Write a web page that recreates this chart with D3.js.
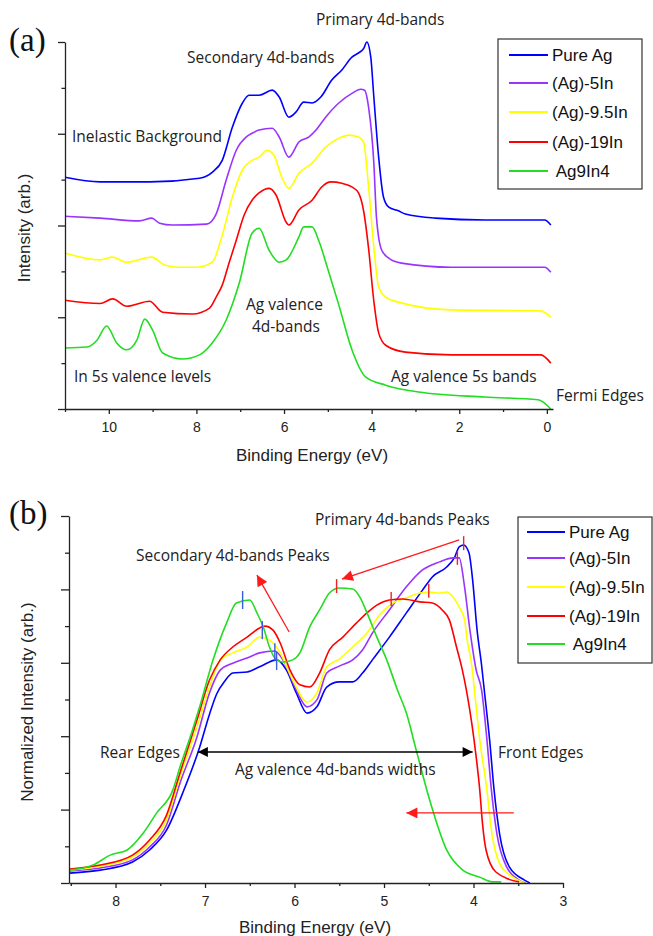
<!DOCTYPE html>
<html>
<head>
<meta charset="utf-8">
<script src="https://cdn.jsdelivr.net/npm/d3@7"></script>
<style>
  body { margin: 0; background: #fff; }
  svg { display: block; }
  .note { font-family: "Open Sans", sans-serif; font-size: 15.5px; fill: #222; }
  .axis text { font-family: "Liberation Sans", Arial, sans-serif; font-size: 14px; fill: #222; }
  .axis path, .axis line { stroke: #222; stroke-width: 1.3; }
  .title { font-family: "Liberation Sans", Arial, sans-serif; font-size: 17px; fill: #222; }
  .panel { font-family: "Liberation Serif", "Times New Roman", serif; font-size: 33px; fill: #111; }
  .legend text { font-family: "Liberation Sans", Arial, sans-serif; font-size: 17px; fill: #111; white-space: pre; }
</style>
</head>
<body>
<svg id="fig" width="653" height="936"></svg>
<script>
var seriesNames = ["Pure Ag", "(Ag)-5In", "(Ag)-9.5In", "(Ag)-19In", " Ag9In4"];
var seriesColors = ["#0000ff", "#9933ff", "#ffff00", "#ff0000", "#22dd22"];

// panel (a): [binding energy (eV), stacked intensity]
var aPureAg = [[11,5.05],[10.2,4.95],[9.07,4.95],[7.93,5.03],[7.64,5.16],[7.41,5.42],[7.18,6.14],[6.95,6.67],[6.8,6.84],[6.57,6.84],[6.27,6.95],[6.11,6.8],[5.89,6.36],[5.73,6.47],[5.55,6.69],[5.36,6.67],[5.16,6.8],[4.91,7.17],[4.68,7.39],[4.45,7.67],[4.3,7.76],[4.18,7.86],[4.11,8.0],[4.02,7.67],[3.95,6.8],[3.84,5.49],[3.73,4.62],[3.61,4.4],[3.39,4.32],[3.23,4.25],[2.55,4.16],[1.41,4.12],[0.05,4.12],[-0.09,4.01]];
var a5In = [[11,4.2],[10.2,4.16],[9.3,4.1],[9.02,4.16],[8.84,4.05],[8.55,4.01],[7.77,4.03],[7.55,4.25],[7.32,4.99],[7.09,5.64],[6.86,5.93],[6.73,6.01],[6.57,6.08],[6.27,6.12],[6.11,5.93],[5.89,5.49],[5.66,5.82],[5.43,5.93],[5.27,6.08],[5.05,6.36],[4.75,6.67],[4.45,6.88],[4.25,6.97],[4.16,6.95],[4.07,6.58],[3.95,5.36],[3.89,4.18],[3.77,3.46],[3.61,3.29],[3.32,3.18],[2.18,3.09],[0.05,3.09],[-0.09,2.98]];
var a9_5In = [[11,3.4],[10.2,3.25],[9.91,3.31],[9.6,3.2],[9.02,3.31],[8.73,3.14],[8.39,3.09],[8.0,3.09],[7.64,3.2],[7.41,3.79],[7.18,4.62],[6.95,5.21],[6.73,5.42],[6.57,5.49],[6.39,5.64],[6.23,5.53],[6.05,5.05],[5.89,4.81],[5.66,5.14],[5.36,5.36],[5.05,5.71],[4.75,5.9],[4.52,5.97],[4.3,5.93],[4.18,5.8],[4.07,4.84],[3.95,3.53],[3.84,2.66],[3.68,2.44],[3.39,2.33],[2.18,2.16],[0.14,2.14],[-0.09,2.0]];
var a19In = [[11,2.37],[10.2,2.3],[9.91,2.4],[9.59,2.24],[9.07,2.35],[8.77,2.11],[8.09,2.07],[7.7,2.2],[7.55,2.44],[7.41,2.7],[7.25,3.2],[7.09,3.68],[6.91,4.23],[6.73,4.55],[6.57,4.71],[6.34,4.81],[6.18,4.66],[5.95,4.07],[5.89,4.01],[5.66,4.34],[5.36,4.55],[5.14,4.84],[4.93,4.95],[4.68,4.92],[4.45,4.84],[4.3,4.71],[4.18,4.3],[4.07,3.5],[3.95,2.35],[3.84,1.66],[3.68,1.39],[3.23,1.24],[2.18,1.18],[0.14,1.18],[-0.09,1.0]];
var aAg9In4 = [[11,1.33],[10.5,1.35],[10.27,1.5],[10.05,1.81],[9.82,1.44],[9.59,1.29],[9.36,1.5],[9.18,1.96],[9.0,1.72],[8.77,1.22],[8.32,1.09],[7.93,1.18],[7.64,1.44],[7.32,1.94],[7.02,2.75],[6.73,3.83],[6.57,3.94],[6.34,3.46],[6.11,3.2],[5.95,3.25],[5.66,3.75],[5.55,3.97],[5.36,3.97],[5.2,3.65],[5.0,3.05],[4.75,2.27],[4.45,1.29],[4.14,0.7],[3.68,0.52],[2.93,0.37],[1.41,0.26],[0.2,0.2],[-0.09,0.0]];

// panel (b): [binding energy (eV), normalized intensity]
var bPureAg = [[8.51,0.27],[8.17,0.35],[7.81,0.57],[7.62,0.9],[7.43,1.44],[7.25,2.45],[7.06,3.7],[6.95,4.6],[6.87,5.15],[6.78,5.5],[6.69,5.72],[6.53,5.75],[6.39,5.89],[6.2,6.08],[6.09,5.8],[5.98,5.18],[5.86,4.63],[5.75,4.8],[5.64,5.34],[5.5,5.48],[5.35,5.48],[5.24,5.72],[5.13,6.08],[4.94,6.7],[4.75,7.36],[4.57,7.98],[4.46,8.34],[4.3,8.61],[4.21,8.88],[4.16,9.16],[4.11,9.21],[4.05,8.99],[4.01,8.26],[3.96,6.89],[3.91,5.94],[3.88,5.26],[3.82,3.9],[3.77,2.53],[3.71,1.36],[3.6,0.44],[3.43,0.08],[3.37,0]];
var b5In = [[8.51,0.33],[8.17,0.41],[7.81,0.63],[7.62,0.98],[7.43,1.58],[7.28,2.72],[7.09,3.98],[6.95,5.18],[6.83,5.8],[6.69,5.99],[6.53,6.13],[6.39,6.27],[6.22,6.32],[6.13,6.08],[5.98,5.26],[5.86,4.8],[5.75,4.99],[5.64,5.72],[5.5,5.91],[5.35,6.08],[5.24,6.35],[5.13,6.81],[4.94,7.44],[4.75,8.07],[4.57,8.53],[4.38,8.75],[4.23,8.86],[4.16,8.86],[4.1,8.07],[4.04,6.89],[3.97,5.8],[3.91,5.26],[3.85,3.9],[3.8,2.53],[3.74,1.36],[3.63,0.44],[3.49,0.08],[3.42,0]];
var b9_5In = [[8.51,0.35],[8.17,0.46],[7.81,0.71],[7.62,1.09],[7.43,1.72],[7.28,2.89],[7.09,4.25],[6.95,5.34],[6.83,6.08],[6.69,6.27],[6.53,6.43],[6.39,6.7],[6.28,6.62],[6.16,6.27],[6.02,5.53],[5.86,4.93],[5.75,5.18],[5.64,5.89],[5.5,6.1],[5.35,6.43],[5.19,6.81],[5.05,7.3],[4.9,7.63],[4.75,7.77],[4.6,7.9],[4.49,7.93],[4.38,7.9],[4.3,7.93],[4.23,7.79],[4.16,7.52],[4.1,7.17],[4.07,6.62],[4.02,5.94],[3.99,5.26],[3.93,3.9],[3.85,2.53],[3.8,1.44],[3.71,0.54],[3.56,0.16],[3.43,0]];
var b19In = [[8.51,0.38],[8.17,0.49],[7.81,0.76],[7.62,1.17],[7.43,1.85],[7.28,3.0],[7.09,4.44],[6.95,5.53],[6.83,6.08],[6.69,6.43],[6.53,6.7],[6.39,6.95],[6.33,7.0],[6.24,6.89],[6.16,6.54],[6.05,5.8],[5.94,5.4],[5.83,5.34],[5.72,5.72],[5.61,6.35],[5.46,6.7],[5.31,7.08],[5.19,7.36],[5.08,7.57],[4.94,7.71],[4.79,7.74],[4.6,7.66],[4.46,7.63],[4.35,7.44],[4.27,7.17],[4.19,6.43],[4.13,5.86],[4.08,5.26],[4.02,4.36],[3.97,3.43],[3.93,2.53],[3.9,1.63],[3.86,0.9],[3.75,0.3],[3.49,0.03]];
var bAg9In4 = [[8.51,0.35],[8.25,0.49],[8.06,0.76],[7.87,0.9],[7.69,1.36],[7.54,1.91],[7.36,2.53],[7.28,3.16],[7.14,4.17],[7.06,4.8],[6.91,6.08],[6.76,7.08],[6.65,7.63],[6.5,7.71],[6.42,7.36],[6.35,6.98],[6.28,6.43],[6.22,6.13],[6.13,6.02],[6.02,6.08],[5.94,6.27],[5.83,6.98],[5.72,7.44],[5.61,7.9],[5.5,8.04],[5.35,8.01],[5.27,7.79],[5.19,7.36],[5.08,6.7],[4.97,6.08],[4.85,5.26],[4.75,4.63],[4.64,3.62],[4.49,2.26],[4.3,0.9],[4.12,0.35],[3.93,0.16],[3.79,0.03],[3.69,0.03]];

// peak tick marks in panel (b)
var bSecondaryPeaks = [[6.58,7.71],[6.36,6.89],[6.22,6.29],[6.2,6.05]];
var bPrimaryPeaks = [[4.11,9.26],[4.18,8.86],[4.5,7.96],[4.92,7.74],[5.53,8.09]];

var aTicksMajor = [10, 8, 6, 4, 2, 0], aTicksMinor = [11, 9, 7, 5, 3, 1];
var bTicksMajor = [8, 7, 6, 5, 4, 3], bTicksMinor = [8.5, 7.5, 6.5, 5.5, 4.5, 3.5];

var aSeries = [aPureAg, a5In, a9_5In, a19In, aAg9In4];
var bSeries = [bPureAg, b5In, b9_5In, b19In, bAg9In4];

var svg = d3.select("#fig");

var defs = svg.append("defs");
defs.append("marker").attr("id", "headRed")
    .attr("viewBox", "0 0 10 10").attr("refX", 10).attr("refY", 5)
    .attr("markerWidth", 13).attr("markerHeight", 11)
    .attr("markerUnits", "userSpaceOnUse").attr("orient", "auto")
  .append("path").attr("d", "M0,0L10,5L0,10Z").attr("fill", "#ff1a1a");
defs.append("marker").attr("id", "headBlack")
    .attr("viewBox", "0 0 10 10").attr("refX", 10).attr("refY", 5)
    .attr("markerWidth", 11).attr("markerHeight", 10)
    .attr("markerUnits", "userSpaceOnUse").attr("orient", "auto-start-reverse")
  .append("path").attr("d", "M0,0L10,5L0,10Z").attr("fill", "#000");

function drawAxes(g, x, y, xMajor, xMinor, yMajor, yMinor, yLen) {
  var x0 = y.range()[0];
  g.append("g").attr("class", "axis").attr("transform", "translate(0," + x0 + ")")
      .call(d3.axisBottom(x).tickValues(xMinor).tickSize(3).tickFormat(""))
      .select(".domain").remove();
  g.append("g").attr("class", "axis").attr("transform", "translate(0," + x0 + ")")
      .call(d3.axisBottom(x).tickValues(xMajor).tickSize(5).tickPadding(8)
        .tickFormat(d3.format("d")).tickSizeOuter(0));
  var lx = x.range()[0];
  g.append("g").attr("class", "axis").attr("transform", "translate(" + lx + ",0)")
      .call(d3.axisLeft(y).tickValues(yMinor).tickSize(yLen / 2).tickFormat(""))
      .select(".domain").remove();
  g.append("g").attr("class", "axis").attr("transform", "translate(" + lx + ",0)")
      .call(d3.axisLeft(y).tickValues(yMajor).tickSize(yLen).tickFormat("").tickSizeOuter(0));
}

function drawLegend(g, x, y, w, h, rows, lineX, textX) {
  var lg = g.append("g").attr("class", "legend");
  lg.append("rect").attr("x", x).attr("y", y).attr("width", w).attr("height", h)
    .attr("fill", "#fff").attr("stroke", "#333").attr("stroke-width", 1.2);
  seriesNames.forEach(function(name, i) {
    lg.append("line").attr("x1", lineX[0]).attr("x2", lineX[1])
      .attr("y1", rows[i]).attr("y2", rows[i])
      .attr("stroke", seriesColors[i]).attr("stroke-width", 1.8);
    lg.append("text").attr("x", textX).attr("y", rows[i] + 6).text(name);
  });
}

function note(g, x, y, t) {
  g.append("text").attr("class", "note").attr("x", x).attr("y", y).text(t);
}

// ---------- panel (a) ----------
var xA = d3.scaleLinear().domain([11, -0.14]).range([65, 553]);
var yA = d3.scaleLinear().domain([0, 8]).range([409, 42]);
var gA = svg.append("g");

var lineA = d3.line().x(function(d) { return xA(d[0]); }).y(function(d) { return yA(d[1]); })
    .curve(d3.curveMonotoneX);
aSeries.forEach(function(s, i) {
  gA.append("path").attr("d", lineA(s)).attr("fill", "none")
    .attr("stroke", seriesColors[i]).attr("stroke-width", 1.6);
});

drawAxes(gA, xA, yA, aTicksMajor, aTicksMinor, [0, 2, 4, 6, 8], [1, 3, 5, 7], 7);

gA.append("text").attr("class", "panel").attr("x", 9).attr("y", 51).text("(a)");
gA.append("text").attr("class", "title").attr("x", 312).attr("y", 461)
  .attr("text-anchor", "middle").text("Binding Energy (eV)");
gA.append("text").attr("class", "title").attr("transform", "translate(30,228) rotate(-90)")
  .attr("text-anchor", "middle").text("Intensity (arb.)");

note(gA, 316, 25, "Primary 4d-bands");
note(gA, 187, 63, "Secondary 4d-bands");
note(gA, 72, 142, "Inelastic Background");
note(gA, 246, 310, "Ag valence");
note(gA, 252, 332, "4d-bands");
note(gA, 74, 382, "In 5s valence levels");
note(gA, 391, 382, "Ag valence 5s bands");
note(gA, 556, 401, "Fermi Edges");

drawLegend(gA, 498, 39, 144, 150, [55, 83, 112, 142, 171], [509, 548], 552);

// ---------- panel (b) ----------
var xB = d3.scaleLinear().domain([8.52, 3]).range([69, 563]);
var yB = d3.scaleLinear().domain([0, 10]).range([883, 516]);
var gB = svg.append("g");

var lineB = d3.line().x(function(d) { return xB(d[0]); }).y(function(d) { return yB(d[1]); })
    .curve(d3.curveMonotoneX);
bSeries.forEach(function(s, i) {
  gB.append("path").attr("d", lineB(s)).attr("fill", "none")
    .attr("stroke", seriesColors[i]).attr("stroke-width", 1.6);
});

drawAxes(gB, xB, yB, bTicksMajor, bTicksMinor, [0, 2, 4, 6, 8, 10], [1, 3, 5, 7, 9], 8);

// peak marks
gB.selectAll(".pk2").data(bSecondaryPeaks).enter().append("line")
  .attr("x1", function(d) { return xB(d[0]); }).attr("x2", function(d) { return xB(d[0]); })
  .attr("y1", function(d) { return yB(d[1]) - 9; }).attr("y2", function(d) { return yB(d[1]) + 9; })
  .attr("stroke", "#3a5be0").attr("stroke-width", 1.4);
gB.selectAll(".pk1").data(bPrimaryPeaks).enter().append("line")
  .attr("x1", function(d) { return xB(d[0]); }).attr("x2", function(d) { return xB(d[0]); })
  .attr("y1", function(d) { return yB(d[1]) - 7; }).attr("y2", function(d) { return yB(d[1]) + 7; })
  .attr("stroke", "#ee2222").attr("stroke-width", 1.4);

// arrows
var redArrows = [[[6.06, 6.84], [6.42, 8.39]], [[4.16, 9.35], [5.47, 8.28]], [[3.55, 1.91], [4.75, 1.91]]];
redArrows.forEach(function(a) {
  gB.append("line").attr("x1", xB(a[0][0])).attr("y1", yB(a[0][1]))
    .attr("x2", xB(a[1][0])).attr("y2", yB(a[1][1]))
    .attr("stroke", "#ff1a1a").attr("stroke-width", 1.3).attr("marker-end", "url(#headRed)");
});
gB.append("line").attr("x1", xB(7.08)).attr("x2", xB(4.01)).attr("y1", yB(3.57)).attr("y2", yB(3.57))
  .attr("stroke", "#000").attr("stroke-width", 1.3)
  .attr("marker-start", "url(#headBlack)").attr("marker-end", "url(#headBlack)");

gB.append("text").attr("class", "panel").attr("x", 9).attr("y", 524).text("(b)");
gB.append("text").attr("class", "title").attr("x", 315).attr("y", 933)
  .attr("text-anchor", "middle").text("Binding Energy (eV)");
gB.append("text").attr("class", "title").attr("transform", "translate(33,702) rotate(-90)")
  .attr("text-anchor", "middle").text("Normalized Intensity (arb.)");

note(gB, 315, 525, "Primary 4d-bands Peaks");
note(gB, 136, 561, "Secondary 4d-bands Peaks");
note(gB, 100, 758, "Rear Edges");
note(gB, 498, 758, "Front Edges");
note(gB, 235, 775, "Ag valence 4d-bands widths");

drawLegend(gB, 518, 517, 134, 146, [532, 558, 587, 616, 644], [527, 565], 569);
</script>
</body>
</html>
